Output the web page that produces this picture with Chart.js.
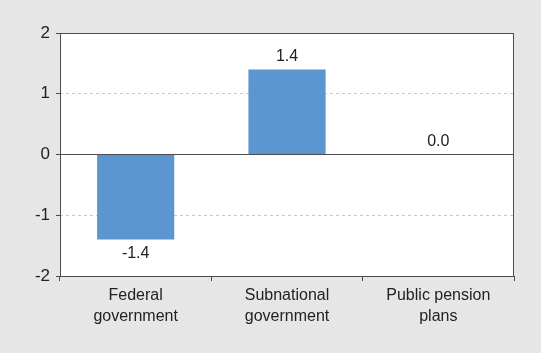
<!DOCTYPE html>
<html>
<head>
<meta charset="utf-8">
<script src="https://cdn.jsdelivr.net/npm/chart.js@4/dist/chart.umd.min.js"></script>
<style>
    html, body { margin: 0; padding: 0; background: #e6e6e7; }
    #wrap { width: 541px; height: 353px; }
</style>
</head>
<body>
<div id="wrap"><canvas id="balanceChart" width="541" height="353"></canvas></div>
<script>
const categories = [['Federal', 'government'], ['Subnational', 'government'], ['Public pension', 'plans']];
const balances = [-1.4, 1.4, 0.0];
const yTicks = [-2, -1, 0, 1, 2];

const FONT = '"Liberation Sans", Arial, sans-serif';

// fond blanc, cadre du graphique + étiquettes de valeurs
const framePlugin = {
    id: 'frame',
    beforeDraw(chart) {
        const { ctx, chartArea: a } = chart;
        ctx.save();
        ctx.fillStyle = '#ffffff';
        ctx.fillRect(a.left, a.top, a.right - a.left, a.bottom - a.top);
        ctx.restore();
    },
    afterDraw(chart) {
        const { ctx, chartArea: a } = chart;
        ctx.save();
        ctx.strokeStyle = '#4d4d4d';
        ctx.lineWidth = 1;
        ctx.strokeRect(a.left + 0.5, a.top + 0.5, a.right - a.left - 1, a.bottom - a.top);
        ctx.restore();
    },
    afterDatasetsDraw(chart) {
        const { ctx } = chart;
        const meta = chart.getDatasetMeta(0);
        const yScale = chart.scales.y;
        ctx.save();
        ctx.font = '16px ' + FONT;
        ctx.fillStyle = '#222';
        ctx.textAlign = 'center';
        ctx.textBaseline = 'middle';
        meta.data.forEach((bar, i) => {
            const v = balances[i];
            const end = yScale.getPixelForValue(v);
            const y = v < 0 ? end + 14 : end - 13;
            ctx.fillText(v.toFixed(1), bar.x, y);
        });
        ctx.restore();
    }
};

new Chart(document.getElementById('balanceChart'), {
    type: 'bar',
    data: {
        labels: categories,
        datasets: [{
            data: balances,
            backgroundColor: '#5b96d0',
            borderWidth: 0,
            categoryPercentage: 0.51,
            barPercentage: 1.0
        }]
    },
    options: {
        responsive: false,
        animation: false,
        layout: { padding: { top: 33, right: 27, bottom: 0, left: 0 } },
        plugins: { legend: { display: false }, tooltip: { enabled: false } },
        scales: {
            x: {
                offset: true,
                grid: {
                    offset: true,
                    drawOnChartArea: false,
                    drawTicks: true,
                    tickLength: 5,
                    tickColor: '#4d4d4d'
                },
                border: { display: false },
                ticks: {
                    color: '#222',
                    font: { family: FONT, size: 16, lineHeight: 1.3 },
                    padding: 4,
                    maxRotation: 0
                },
                afterFit(scale) { scale.height = 77; }
            },
            y: {
                min: -2,
                max: 2,
                afterBuildTicks(scale) { scale.ticks = yTicks.map(v => ({ value: v })); },
                grid: {
                    color: ctx => {
                        const v = ctx.tick ? ctx.tick.value : null;
                        if (v === 0) return '#4d4d4d';
                        if (v === 2 || v === -2) return 'rgba(0,0,0,0)';
                        return '#c8c8c8';
                    },
                    tickColor: '#4d4d4d',
                    tickLength: 4,
                    drawTicks: true
                },
                border: {
                    display: false,
                    dash: ctx => (ctx.tick && ctx.tick.value === 0) ? [] : [3, 3]
                },
                ticks: {
                    color: '#222',
                    font: { family: FONT, size: 17 },
                    padding: 6,
                    callback: v => String(v)
                },
                afterFit(scale) { scale.width = 60; }
            }
        }
    },
    plugins: [framePlugin]
});
</script>
</body>
</html>
